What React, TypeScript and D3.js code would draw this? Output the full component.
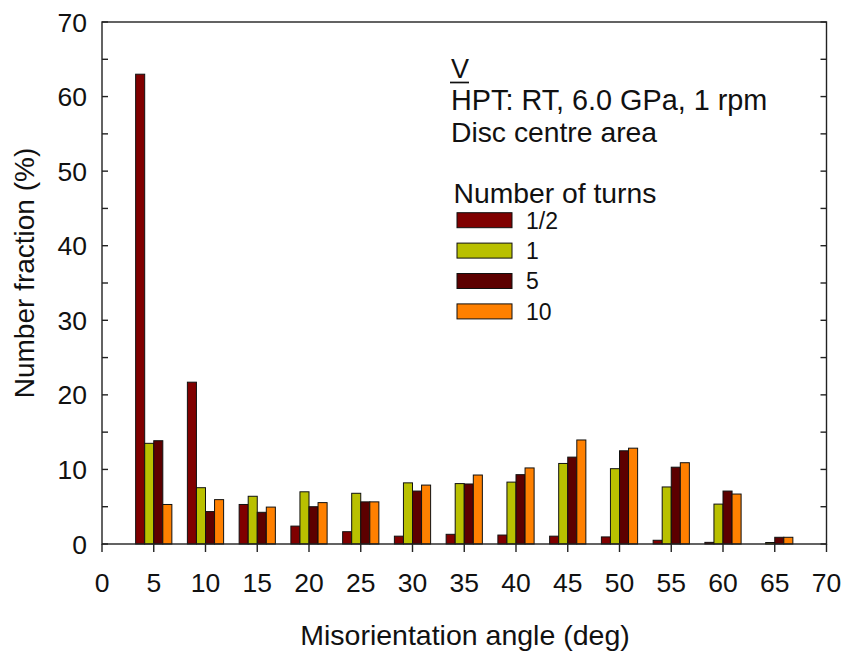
import React from "react";
import * as d3 from "d3";

const angles = [5, 10, 15, 20, 25, 30, 35, 40, 45, 50, 55, 60, 65];
const seriesNames = ["1/2", "1", "5", "10"];
const seriesColors = ["#800000", "#b9c000", "#5c0000", "#ff8000"];
const turnsHalf = [63.0, 21.7, 5.3, 2.4, 1.65, 1.05, 1.3, 1.2, 1.05, 0.95, 0.5, 0.22, 0];
const turnsOne = [13.5, 7.55, 6.4, 7.0, 6.8, 8.2, 8.1, 8.3, 10.8, 10.1, 7.65, 5.35, 0.2];
const turnsFive = [13.85, 4.35, 4.25, 5.0, 5.65, 7.1, 8.05, 9.3, 11.65, 12.5, 10.3, 7.1, 0.9];
const turnsTen = [5.3, 5.95, 4.95, 5.55, 5.65, 7.9, 9.25, 10.2, 13.95, 12.85, 10.9, 6.7, 0.9];
const seriesValues = [turnsHalf, turnsOne, turnsFive, turnsTen];
const xTicks = [0, 5, 10, 15, 20, 25, 30, 35, 40, 45, 50, 55, 60, 65, 70];
const yTicks = [0, 10, 20, 30, 40, 50, 60, 70];
const yMinorTicks = [5, 15, 25, 35, 45, 55, 65];

const W = 847;
const H = 653;
const left = 102;
const right = 826.5;
const top = 22;
const bottom = 544;
const font = "'Liberation Sans', Arial, sans-serif";

export default function App() {
  const x = d3.scaleLinear().domain([0, 70]).range([left, right]);
  const y = d3.scaleLinear().domain([0, 70]).range([bottom, top]);
  const groupW = 3.5;
  const inner = d3
    .scaleBand<number>()
    .domain(d3.range(seriesNames.length))
    .range([-groupW / 2, groupW / 2])
    .padding(0);

  const allY = [...yTicks, ...yMinorTicks];

  return (
    <svg
      width={W}
      height={H}
      style={{ position: "absolute", left: 0, top: 0, background: "#fff" }}
      fontFamily={font}
    >
      {/* bars */}
      {seriesValues.map((vals, si) =>
        vals.map((v, i) => {
          if (v <= 0) return null;
          const x0 = x(angles[i] + (inner(si) as number));
          const x1 = x(angles[i] + (inner(si) as number) + inner.bandwidth());
          return (
            <rect
              key={`${si}-${i}`}
              x={x0}
              y={y(v)}
              width={x1 - x0}
              height={y(0) - y(v)}
              fill={seriesColors[si]}
              stroke="#111"
              strokeWidth={1}
            />
          );
        })
      )}

      {/* frame */}
      <rect
        x={left}
        y={top}
        width={right - left}
        height={bottom - top}
        fill="none"
        stroke="#222"
        strokeWidth={1.4}
      />

      {/* left & right inward ticks */}
      {allY.map((t) => (
        <g key={`yt${t}`}>
          <line x1={left} x2={left + 6} y1={y(t)} y2={y(t)} stroke="#222" strokeWidth={1.4} />
          <line x1={right} x2={right - 6} y1={y(t)} y2={y(t)} stroke="#222" strokeWidth={1.4} />
        </g>
      ))}
      {yTicks.map((t) => (
        <text
          key={`yl${t}`}
          x={87}
          y={y(t)}
          dy="0.36em"
          textAnchor="end"
          fontSize={26.5}
          fill="#111"
        >
          {t}
        </text>
      ))}

      {/* x ticks outward */}
      {xTicks.map((t) => (
        <g key={`xt${t}`}>
          <line x1={x(t)} x2={x(t)} y1={bottom} y2={bottom + 8} stroke="#222" strokeWidth={1.4} />
          <text x={x(t)} y={592} textAnchor="middle" fontSize={26.5} fill="#111">
            {t}
          </text>
        </g>
      ))}

      {/* axis titles */}
      <text x={465} y={645} textAnchor="middle" fontSize={28.5} fill="#111">
        Misorientation angle (deg)
      </text>
      <text
        transform={`translate(34, 273) rotate(-90)`}
        textAnchor="middle"
        fontSize={28}
        fill="#111"
      >
        Number fraction (%)
      </text>

      {/* annotation */}
      <text x={451} y={78} fontSize={27} fill="#111">
        V
      </text>
      <line x1={450} x2={469} y1={82.5} y2={82.5} stroke="#111" strokeWidth={1.7} />
      <text x={451} y={110} fontSize={28.8} fill="#111">
        HPT: RT, 6.0 GPa, 1 rpm
      </text>
      <text x={451} y={141.5} fontSize={28.3} fill="#111">
        Disc centre area
      </text>

      {/* legend */}
      <text x={453.5} y={203.3} fontSize={28.3} fill="#111">
        Number of turns
      </text>
      {seriesNames.map((name, i) => (
        <g key={name} transform={`translate(0, ${i * 30.4})`}>
          <rect x={457} y={212.7} width={55} height={15} fill={seriesColors[i]} stroke="#111" strokeWidth={1} />
          <text x={526} y={228.5} fontSize={23} fill="#111">
            {name}
          </text>
        </g>
      ))}
    </svg>
  );
}
